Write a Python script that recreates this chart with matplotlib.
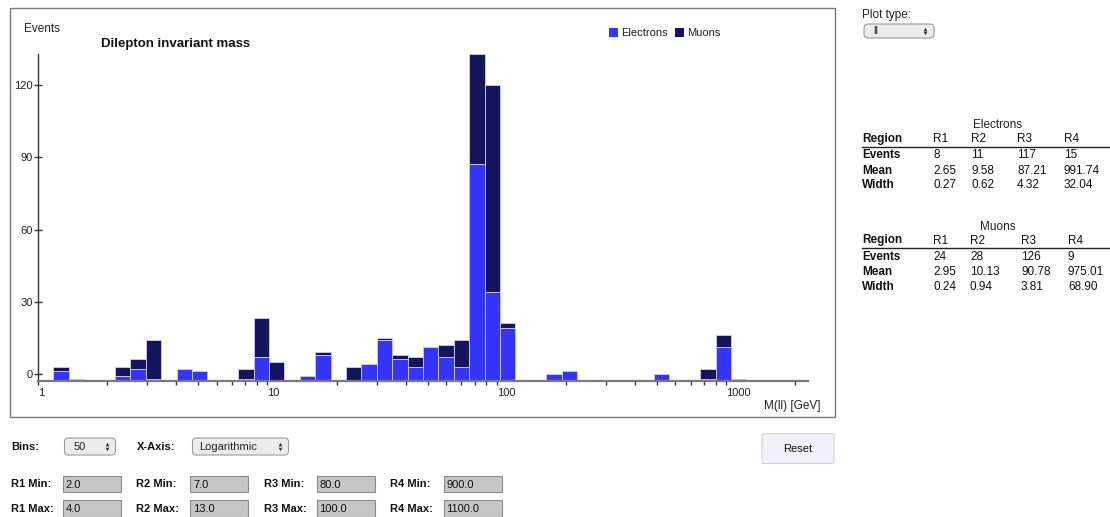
import numpy as np
import matplotlib
matplotlib.use("Agg")
import matplotlib.pyplot as plt
from matplotlib.patches import Rectangle, FancyBboxPatch

plt.rcParams['font.family'] = ['Liberation Sans', 'DejaVu Sans']

# ---------------- data ----------------
N_BINS = 50
LOG_MAX = 3.356          # histogram spans 1 .. 10**LOG_MAX GeV (log bins)
electrons = [0, 4, 0, 0, 0, 2, 5, 1, 0, 5,
             4, 0, 0, 1, 10, 0, 0, 2, 11, 0,
             0, 7, 17, 9, 6, 14, 10, 6, 90, 37,
             22, 0, 0, 3, 4, 0, 0, 0, 0, 0,
             3, 0, 0, 1, 14, 1, 0, 0, 0, 0]
muons = [0, 2, 1, 0, 0, 4, 4, 16, 0, 0,
         0, 0, 0, 4, 16, 8, 0, 0, 1, 0,
         6, 0, 1, 2, 4, 0, 5, 11, 46, 86,
         2, 0, 0, 0, 0, 0, 0, 0, 0, 0,
         0, 0, 0, 4, 5, 0, 0, 0, 0, 0]
y_ticks = [0, 30, 60, 90, 120]
x_ticks = [1, 10, 100, 1000]
x_tick_labels = ['1', '10', '100', '1000']

regions = ['R1', 'R2', 'R3', 'R4']
ele_events = ['8', '11', '117', '15']
ele_mean = ['2.65', '9.58', '87.21', '991.74']
ele_width = ['0.27', '0.62', '4.32', '32.04']
mu_events = ['24', '28', '126', '9']
mu_mean = ['2.95', '10.13', '90.78', '975.01']
mu_width = ['0.24', '0.94', '3.81', '68.90']

r_min = ['2.0', '7.0', '80.0', '900.0']
r_max = ['4.0', '13.0', '100.0', '1100.0']

# ---------------- figure ----------------
W, H = 1110, 517
fig = plt.figure(figsize=(W / 100, H / 100), dpi=100)
fig.patch.set_facecolor('white')

ui = fig.add_axes([0, 0, 1, 1])
ui.set_xlim(0, W)
ui.set_ylim(H, 0)
ui.axis('off')

# chart frame
ui.add_patch(Rectangle((10, 7.5), 825, 409, fill=False, edgecolor='#7a7a7a', lw=1.0))

# chart axes (pixel geometry)
L, R, T, B = 38, 808, 53.5, 381
ax = fig.add_axes([L / W, (H - B) / H, (R - L) / W, (B - T) / H])
ax.patch.set_alpha(0)

E_COL = '#3434fb'
M_COL = '#15155e'
Y_OFF = 2.9   # the y axis of the original starts slightly below zero; bars start at its bottom

edges = np.logspace(0, LOG_MAX, N_BINS + 1)
e = np.array(electrons, float)
m = np.array(muons, float)
base = np.full(N_BINS, -Y_OFF)
ax.bar(edges[:-1], e, width=np.diff(edges), bottom=base, align='edge',
       color=E_COL, edgecolor='#c4c4f4', linewidth=0.7, label='Electrons')
ax.bar(edges[:-1], m, width=np.diff(edges), bottom=base + e, align='edge',
       color=M_COL, edgecolor='#c4c4f4', linewidth=0.7, label='Muons')

ax.set_xscale('log')
ax.set_xlim(1, 10 ** LOG_MAX)
ax.set_ylim(-Y_OFF, (e + m).max() - Y_OFF)

for s in ['top', 'right']:
    ax.spines[s].set_visible(False)
ax.spines['left'].set_color('#333333')
ax.spines['left'].set_linewidth(1.0)
ax.spines['bottom'].set_color('#7a7a7a')
ax.spines['bottom'].set_linewidth(1.6)

ax.set_yticks(y_ticks)
ax.tick_params(axis='y', direction='inout', length=6, width=1, color='#333333',
               labelsize=8, labelcolor='#222222', pad=1)
ax.set_xticks(x_ticks)
ax.set_xticklabels(x_tick_labels)
ax.xaxis.set_minor_locator(matplotlib.ticker.LogLocator(base=10, subs=np.arange(2, 10)))
ax.xaxis.set_minor_formatter(matplotlib.ticker.NullFormatter())
ax.tick_params(axis='x', which='major', direction='out', length=3, width=1,
               color='#333333', labelsize=8, labelcolor='#222222', pad=2)
ax.tick_params(axis='x', which='minor', direction='out', length=3, width=1, color='#333333')
for lbl in ax.get_xticklabels():
    lbl.set_ha('left')

# chart texts
ui.text(24, 29, 'Events', fontsize=8.5, color='#222222', va='center', ha='left')
ui.text(101, 44, 'Dilepton invariant mass', fontsize=9.5, fontweight='bold',
        color='#111111', va='center', ha='left')
ui.text(821, 406, 'M(ll) [GeV]', fontsize=8.5, color='#222222', va='center', ha='right')

# legend
ui.add_patch(Rectangle((608.5, 27.5), 9, 9, color=E_COL, lw=0))
ui.text(621, 32.5, 'Electrons', fontsize=8, color='#222222', va='center', ha='left')
ui.add_patch(Rectangle((675, 27.5), 9, 9, color=M_COL, lw=0))
ui.text(687, 32.5, 'Muons', fontsize=8, color='#222222', va='center', ha='left')


# ---------------- right panel ----------------
def select_box(x0, y0, w, h, text, text_x):
    ui.add_patch(FancyBboxPatch((x0, y0), w, h, boxstyle='round,pad=0,rounding_size=4',
                                facecolor='#ececec', edgecolor='#9a9a9a', lw=0.8))
    ui.text(text_x, y0 + h / 2 + 0.5, text, fontsize=8, color='#222222', va='center', ha='left')
    ax_x = x0 + w - 9
    ui.plot([ax_x], [y0 + h / 2 - 2.2], marker='^', ms=2.6, color='#333333', mew=0)
    ui.plot([ax_x], [y0 + h / 2 + 2.2], marker='v', ms=2.6, color='#333333', mew=0)


ui.text(862, 15, 'Plot type:', fontsize=8.5, color='#222222', va='center', ha='left')
select_box(864, 24, 70, 14, 'll', 873)

TABLE_FS = 8.5


def stats_table(title, y_title, cols, events, means, widths):
    ui.text(998, y_title, title, fontsize=TABLE_FS, color='#222222', va='center', ha='center')
    yh = y_title + 14
    ui.text(862, yh, 'Region', fontsize=TABLE_FS, fontweight='bold', color='#111111', va='center')
    for cx, r in zip(cols, regions):
        ui.text(cx, yh, r, fontsize=TABLE_FS, color='#111111', va='center')
    ui.plot([862, 1110], [yh + 7.5, yh + 7.5], color='#222222', lw=1.0)
    for dy, name, vals in [(16, 'Events', events), (31.5, 'Mean', means), (46.5, 'Width', widths)]:
        ui.text(862, yh + dy, name, fontsize=TABLE_FS, fontweight='bold', color='#111111', va='center')
        for cx, v in zip(cols, vals):
            ui.text(cx, yh + dy, v, fontsize=TABLE_FS, color='#111111', va='center')


stats_table('Electrons', 125, [933, 971, 1017, 1064], ele_events, ele_mean, ele_width)
stats_table('Muons', 226.5, [933, 970, 1021, 1068], mu_events, mu_mean, mu_width)

# ---------------- bottom controls ----------------
ui.text(11, 446.5, 'Bins:', fontsize=8, fontweight='bold', color='#111111', va='center')
select_box(64.5, 438, 51, 17, '50', 74)
ui.text(136.5, 446.5, 'X-Axis:', fontsize=8, fontweight='bold', color='#111111', va='center')
select_box(192.5, 438, 96, 17, 'Logarithmic', 199)

ui.add_patch(FancyBboxPatch((762, 433.5), 72, 30, boxstyle='round,pad=0,rounding_size=2',
                            facecolor='#f1f1f7', edgecolor='#d0d0d8', lw=0.8))
ui.text(798, 448.5, 'Reset', fontsize=8, color='#111111', va='center', ha='center')

label_x = [11, 136.5, 263.5, 390]
box_x = [62.5, 190, 316.5, 443.5]
for i in range(4):
    for y_row, kind, vals in [(484, 'Min', r_min), (508.5, 'Max', r_max)]:
        ui.text(label_x[i], y_row, f'{regions[i]} {kind}:', fontsize=8, fontweight='bold',
                color='#111111', va='center')
        ui.add_patch(Rectangle((box_x[i], y_row - 8.2), 58, 16.4, facecolor='#c6c6c6',
                               edgecolor='#8a8a8a', lw=0.8))
        ui.text(box_x[i] + 3, y_row + 0.5, vals[i], fontsize=8, color='#111111', va='center')

fig.savefig('out.png', dpi=100, facecolor='white')
